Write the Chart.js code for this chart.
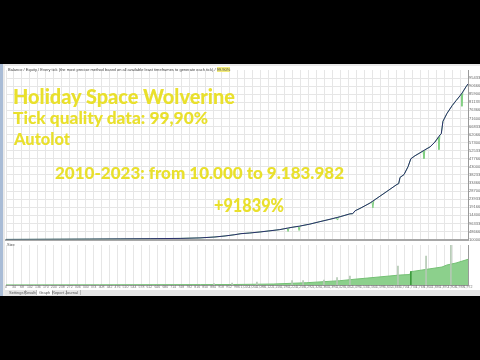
<!DOCTYPE html>
<html><head><meta charset="utf-8">
<script src="https://cdn.jsdelivr.net/npm/chart.js@4.4.0/dist/chart.umd.min.js"></script>
<style>
html,body{margin:0;padding:0;background:#000;width:480px;height:360px;overflow:hidden;position:relative;font-family:"Liberation Sans",Arial,sans-serif}
#frame{position:absolute;left:0;top:64px;width:480px;height:232px;background:#e9e9e9}
#strip{position:absolute;left:0;top:64px;width:3px;height:232px;background:#a9bcd6}
#panel{position:absolute;left:5px;top:66px;width:475px;height:224px;background:#fff}
canvas{position:absolute;left:0}
#c1{top:66px}
#c2{top:243px}
.y{position:absolute;color:#e9e02c;font-family:"Lato";font-weight:900;line-height:1;white-space:nowrap;transform-origin:0 0}
#hdr{position:absolute;left:8px;top:68px;font-size:4px;line-height:4px;color:#444;white-space:nowrap}
#hdr b{background:#f3ec7a;font-weight:normal}
#size{position:absolute;left:7px;top:243px;font-size:4px;line-height:4px;color:#555}
#tabs{position:absolute;left:5px;top:290px;width:475px;height:6px;background:#e6e6e6}
#tabs span{position:absolute;top:0;height:5px;font-size:4px;line-height:5px;color:#555;border-right:1px solid #bbb;padding:0 2px}
#tabs span.sel{background:#fff;border-left:1px solid #bbb}
</style></head>
<body>
<div id="frame"></div><div id="strip"></div><div id="panel"></div>
<canvas id="c1" width="480" height="177"></canvas>
<canvas id="c2" width="480" height="47"></canvas>
<div id="hdr">Balance / Equity / Every tick (the most precise method based on all available least timeframes to generate each tick) / <b>99.90%</b></div>
<div id="size">Size</div>
<div id="tabs"><span style="left:2px">Settings</span><span style="left:17px">Results</span><span class="sel" style="left:31px">Graph</span><span style="left:45px">Report</span><span style="left:58px">Journal</span></div>
<div class="y" data-w="222" style="left:13px;top:85.4px;font-size:21px">Holiday Space Wolverine</div>
<div class="y" data-w="195" style="left:13px;top:109.2px;font-size:17px">Tick quality data: 99,90%</div>
<div class="y" data-w="56" style="left:14px;top:131px;font-size:16.5px">Autolot</div>
<div class="y" data-w="289" style="left:55px;top:163.9px;font-size:17px">2010-2023: from 10.000 to 9.183.982</div>
<div class="y" data-w="70" style="left:214px;top:196px;font-size:18px">+91839%</div>
<script>
// ---- data ----
const totalTrades = 1972;
const balanceTrade = [0,102,230,358,487,615,743,828,892,935,977,1003,1041,1084,1127,1169,1212,1255,1297,1340,1383,1426,1468,1480,1490,1511,1554,1596,1639,1669,1676,1682,1699,1716,1728,1746,1767,1788,1810,1831,1852,1858,1865,1882,1904,1921,1938,1950,1963,1972];
const balanceValue = [10000,15000,22000,30000,42000,55000,70000,100000,155000,215000,290000,350000,390000,450000,520000,590000,705000,800000,915000,1060000,1200000,1350000,1520000,1530000,1700000,1840000,2160000,2560000,2970000,3260000,3300000,3670000,3840000,4300000,4770000,4950000,5120000,5300000,5470000,5760000,6170000,6250000,6980000,7440000,7900000,8200000,8490000,8720000,9010000,9183982];
const equityTrade = [0,102,230,358,487,615,743,828,892,935,977,1003,1041,1084,1127,1169,1200,1204,1208,1212,1247,1251,1255,1297,1340,1383,1410,1413,1417,1426,1468,1480,1490,1511,1554,1562,1566,1570,1596,1639,1669,1676,1682,1699,1716,1728,1746,1767,1780,1784,1788,1810,1831,1845,1848,1852,1858,1865,1882,1904,1921,1938,1943,1946,1950,1963,1972];
const equityValue = [10000,15000,22000,30000,42000,55000,70000,100000,155000,215000,290000,350000,390000,450000,520000,590000,673000,477000,694000,705000,782000,535000,800000,915000,1060000,1200000,1294000,1180000,1319000,1350000,1520000,1530000,1700000,1840000,2160000,2236000,1870000,2312000,2560000,2970000,3260000,3300000,3670000,3840000,4300000,4770000,4950000,5120000,5231000,4780000,5300000,5470000,5760000,6033000,5310000,6170000,6250000,6980000,7440000,7900000,8200000,8490000,8586000,7870000,8720000,9010000,9183982];
const lotTrade = [0,400,830,970,1084,1143,1284,1425,1498,1545,1682,1724,1728,1861,1882,1921,1972];
const lotValue = [0.2,0.4,0.8,1.0,1.6,2.0,4.6,8.6,12,14,20,21,26.6,36,40,44,51.4];
const spikeTrade = [888,965,1071,1221,1268,1357,1413,1468,1673,1728,1793,1899];
const spikeValue = [3,4,6,8.6,8.6,10,14.6,18,38,26.6,58,80];
const yStep = 465600, yMax = 10010000, lotMax = 80, gridStep = 34;

const pts = (xs, ys) => xs.map((x, i) => ({x, y: ys[i]}));
const GRID = '#e6e6e6';

new Chart(document.getElementById('c1'), {
  type: 'line',
  data: { datasets: [
    { data: pts(balanceTrade, balanceValue), borderColor: '#2a2e6e', borderWidth: 1, pointRadius: 0, tension: 0 },
    { data: pts(equityTrade, equityValue), borderColor: '#80cf80', borderWidth: 1, pointRadius: 0, tension: 0 }
  ]},
  options: {
    responsive: false, animation: false,
    layout: { padding: { left: 6, top: 4, right: 0, bottom: 1 } },
    plugins: { legend: { display: false }, tooltip: { enabled: false } },
    scales: {
      x: { type: 'linear', min: 0, max: totalTrades,
           ticks: { display: false, stepSize: gridStep, autoSkip: false },
           grid: { color: GRID, drawTicks: false }, border: { color: '#a8a8a8', width: 2 } },
      y: { position: 'right', min: 0, max: yMax,
           afterFit(s) { s.width = 12; },
           afterBuildTicks(s) { s.ticks = s.ticks.filter(t => t.value < yMax); },
           ticks: { stepSize: yStep, autoSkip: false, font: { size: 4, family: 'Liberation Sans' }, color: '#666', padding: 1,
                    callback: v => String(Math.round(v + 10000)) },
           grid: { color: GRID, drawTicks: false }, border: { color: '#9a9a9a', width: 1 } }
    }
  }
});

new Chart(document.getElementById('c2'), {
  type: 'bar',
  data: { datasets: [
    { type: 'bar', data: pts(spikeTrade, spikeValue), barThickness: 1,
      backgroundColor: spikeTrade.map((t, i) => i === 9 ? '#3d9a3d' : '#b4c9b4') },
    { type: 'line', data: pts(lotTrade, lotValue), borderColor: '#74c074', borderWidth: 1, pointRadius: 0,
      tension: 0, fill: 'origin', backgroundColor: '#8cd08c' }
  ]},
  options: {
    responsive: false, animation: false,
    layout: { padding: { left: 6, top: 2, right: 0, bottom: 0 } },
    plugins: { legend: { display: false }, tooltip: { enabled: false } },
    scales: {
      x: { type: 'linear', min: 0, max: totalTrades, offset: false,
           afterFit(s) { s.height = 5; },
           ticks: { stepSize: gridStep, autoSkip: false, maxRotation: 0, font: { size: 3.5, family: 'Liberation Sans' }, color: '#777', padding: 0 },
           grid: { color: GRID, drawTicks: false, offset: false }, border: { color: '#9a9a9a', width: 1 } },
      y: { position: 'right', min: 0, max: lotMax,
           afterFit(s) { s.width = 12; },
           ticks: { display: false },
           grid: { display: false }, border: { color: '#9a9a9a', width: 1 } }
    }
  }
});

document.querySelectorAll('.y').forEach(el => {
  const w = el.getBoundingClientRect().width;
  el.style.transform = 'scaleX(' + (parseFloat(el.dataset.w) / w) + ')';
});
</script>
</body></html>
